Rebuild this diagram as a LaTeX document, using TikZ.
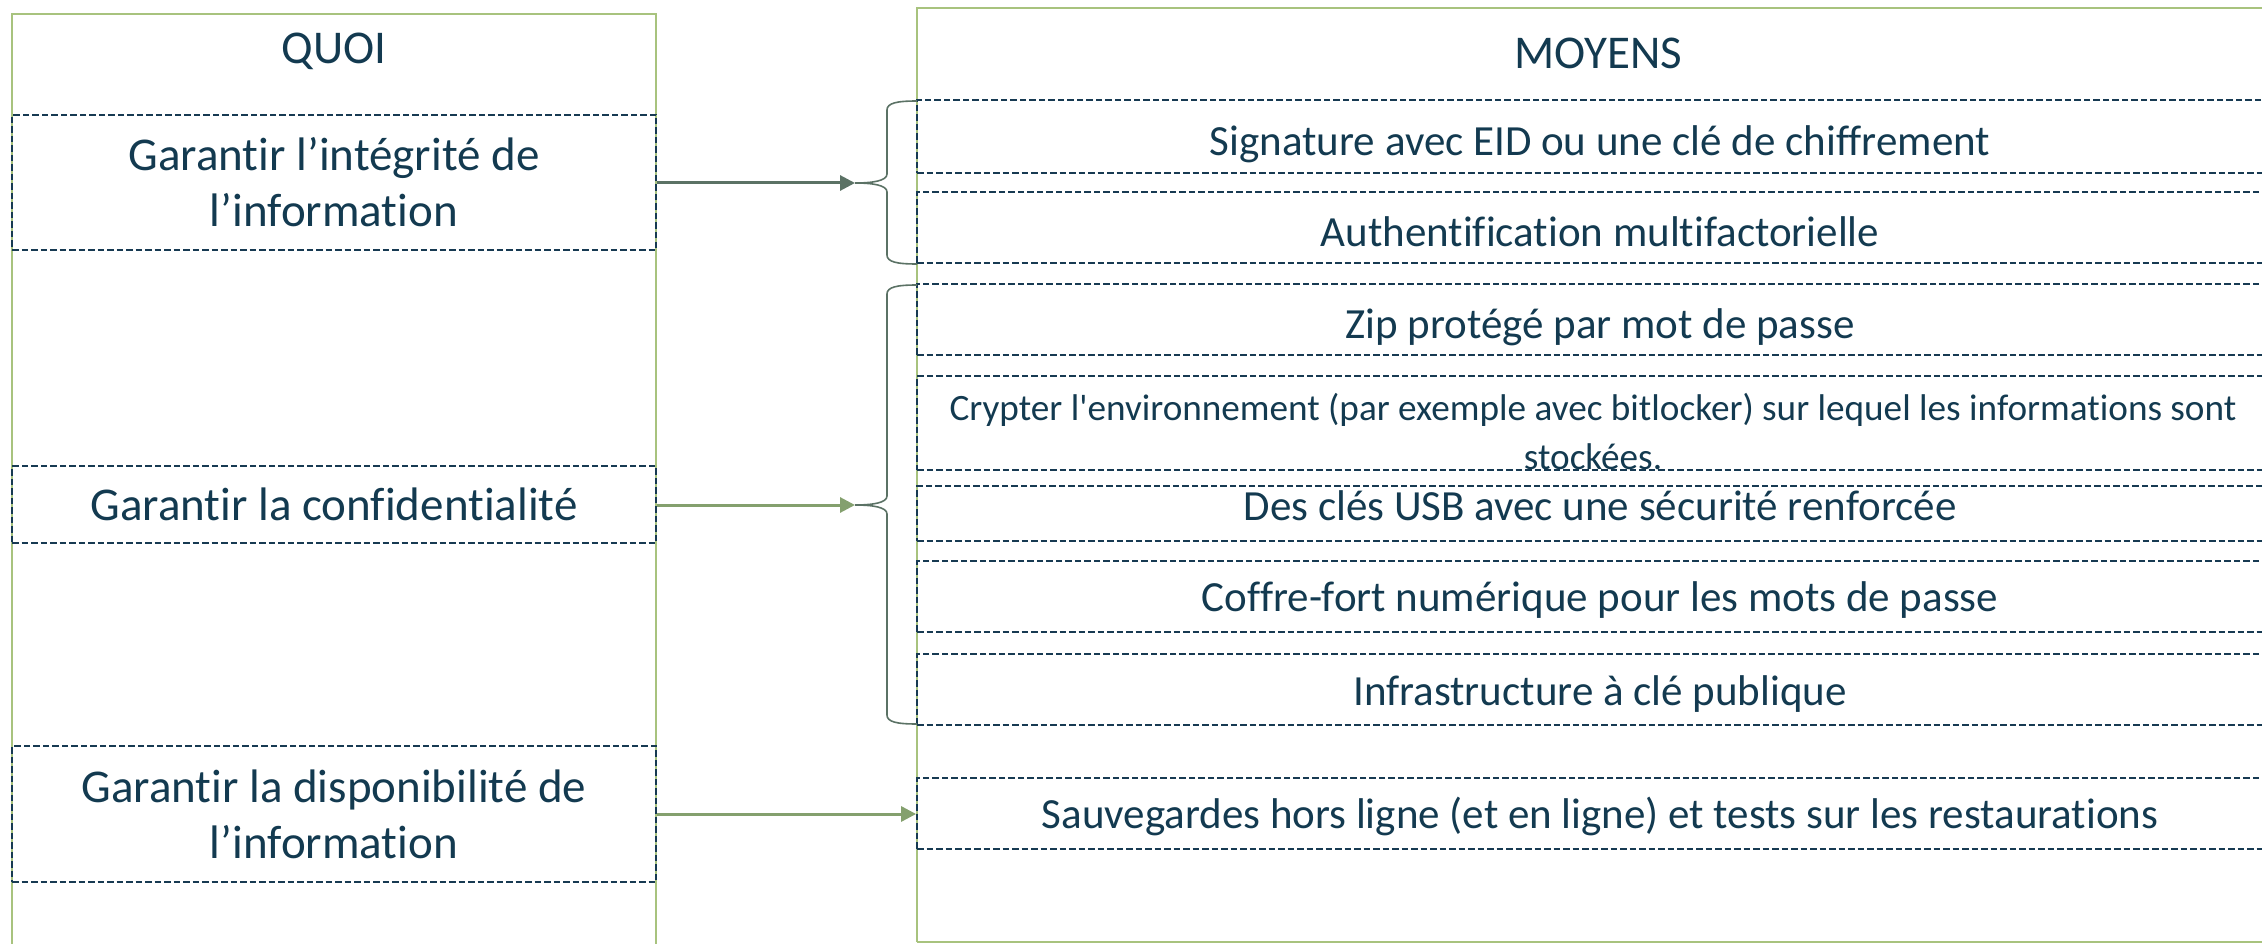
\documentclass[tikz,border=0pt]{standalone}
\usepackage{fontspec}
\setmainfont{Carlito}[Ligatures=NoCommon]
\usetikzlibrary{arrows.meta,calc}
\definecolor{panelgreen}{HTML}{A8C37E}
\definecolor{navy}{HTML}{173A52}
\definecolor{txt}{HTML}{133A50}
\definecolor{arrdark}{HTML}{5B7265}
\definecolor{arrgreen}{HTML}{84A06E}
\newcommand{\sq}{\XeTeXglyph\XeTeXcharglyph"27\relax}
\tikzset{
  panel/.style={draw=panelgreen, line width=2.6pt, inner sep=0pt},
  dbox/.style={draw=navy, line width=1.8pt, dash pattern=on 6.5pt off 3pt, inner sep=0pt, text=txt, align=center},
  quoitext/.style={font=\fontsize{47}{56}\selectfont},
  rowtext/.style={text=txt, inner sep=0pt, align=center, font=\fontsize{43}{50}\selectfont, text height=0.62em, text depth=0.12em},
  title/.style={text=txt, inner sep=0pt, font=\fontsize{47}{56}\selectfont},
  brc/.style={draw=arrdark, line width=1.6pt},
  arrA/.style={draw=arrdark, line width=3pt, -{Triangle[length=15pt,width=15pt]}},
  arrB/.style={draw=arrgreen, line width=3pt, -{Triangle[length=15pt,width=15pt]}},
}
\newcommand{\mybrace}[3]{%
  \draw[brc] (917,#1) .. controls (897,#1) and (887,#1+2) .. (887,#1+9) -- (887,#3-9)
    .. controls (887,#3-2) and (872,#3) .. (855,#3)
    .. controls (872,#3) and (887,#3+2) .. (887,#3+9) -- (887,#2-9)
    .. controls (887,#2-2) and (897,#2) .. (917,#2);}
\begin{document}
\begin{tikzpicture}[x=1pt,y=-1pt]
\useasboundingbox (0,0) rectangle (2262,944);
% panels
\draw[panel] (12,955) -- (12,14) -- (656,14) -- (656,955);
\draw[panel] (917,942) -- (917,8) -- (2290,8);
\draw[panel] (917,942) -- (2290,942);
\node[title] (quoi) at (334,51) {QUOI};
\node[title] (moyens) at (1598,53) {MOYENS};
% left boxes
\node[dbox, quoitext, minimum width=644pt, minimum height=135pt] (q1) at (334,182.5) {Garantir l’intégrité de\\l’information};
\node[dbox, quoitext, minimum width=644pt, minimum height=77pt] (q2) at (334,504.5) {Garantir la confidentialité};
\node[dbox, quoitext, minimum width=644pt, minimum height=136pt] (q3) at (334,814) {Garantir la disponibilité de\\l’information};
% right rows
\node[dbox, minimum width=1367pt, minimum height=73pt] (r1) at (1600.5,136.5) {};
\node[dbox, minimum width=1367pt, minimum height=71pt] (r2) at (1600.5,227.5) {};
\node[dbox, minimum width=1367pt, minimum height=71pt] (r3) at (1600.5,319.5) {};
\node[dbox, minimum width=1367pt, minimum height=94pt] (r4) at (1600.5,423) {};
\node[dbox, minimum width=1367pt, minimum height=55pt] (r5) at (1600.5,513.5) {};
\node[dbox, minimum width=1367pt, minimum height=71pt] (r6) at (1600.5,596.5) {};
\node[dbox, minimum width=1367pt, minimum height=71pt] (r7) at (1600.5,689.5) {};
\node[dbox, minimum width=1367pt, minimum height=71pt] (r8) at (1600.5,813.5) {};
\node[rowtext] (t1) at (1600,153) {Signature avec EID ou une clé de chiffrement};
\node[rowtext] (t2) at (1600,244) {Authentification multifactorielle};
\node[rowtext] (t3) at (1600,336) {Zip protégé par mot de passe};
\node[rowtext, font=\fontsize{37.2}{49}\selectfont] (t4) at (1593,467) {Crypter l\sq environnement (par exemple avec bitlocker) sur lequel les informations sont\\stockées.};
\node[rowtext] (t5) at (1600,518) {Des clés USB avec une sécurité renforcée};
\node[rowtext] (t6) at (1600,609) {Coffre-fort numérique pour les mots de passe};
\node[rowtext] (t7) at (1600,703) {Infrastructure à clé publique};
\node[rowtext] (t8) at (1600,826) {Sauvegardes hors ligne (et en ligne) et tests sur les restaurations};
% braces
\mybrace{101}{264}{183}
\mybrace{285}{724}{505}
\coordinate (b1) at (855,183);
\coordinate (b2) at (855,505);
% arrows
\draw[arrA] (q1.east |- b1) -- (b1);
\draw[arrB] (q2.east |- b2) -- (b2);
\draw[arrB] (q3.east) -- (r8.west |- q3.east);
\end{tikzpicture}
\end{document}
